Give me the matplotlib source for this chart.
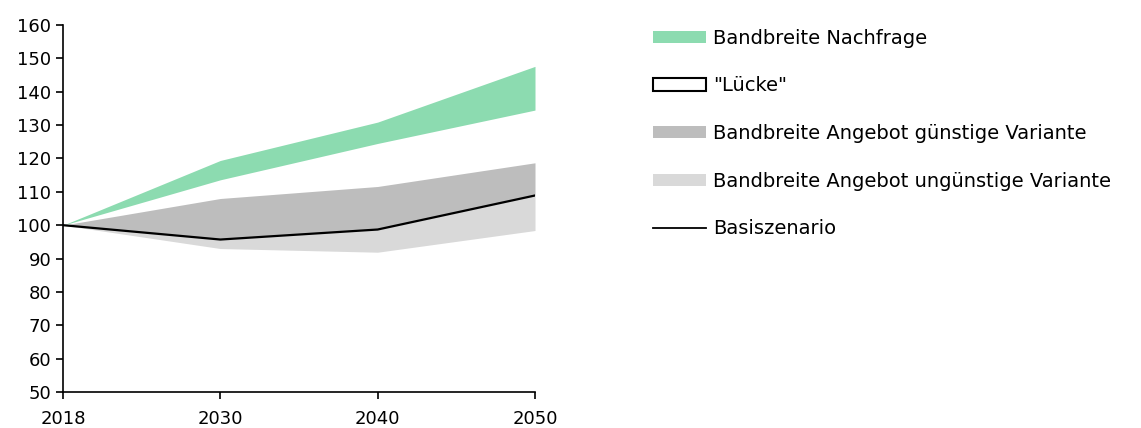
import matplotlib.pyplot as plt
from matplotlib.patches import Patch
from matplotlib.lines import Line2D

# data
years = ["2018", "2030", "2040", "2050"]
nachfrage_low = [100, 113.6, 124.5, 134.5]
nachfrage_high = [100, 119.4, 130.9, 147.6]
angebot_guenstig = [100, 108.0, 111.6, 118.7]
basis = [100, 95.7, 98.7, 108.9]
angebot_unguenstig = [100, 93.0, 91.9, 98.4]

green = "#8cdbb0"
dark = "#bdbdbd"
light = "#d9d9d9"

plt.rcParams["font.family"] = ["DejaVu Sans"]

fig = plt.figure(figsize=(11.41, 4.28), dpi=100)
ax = fig.add_axes([63 / 1141, 1 - 392 / 428, (535 - 63) / 1141, (392 - 25) / 428])

x = list(range(len(years)))
ax.fill_between(x, nachfrage_low, nachfrage_high, color=green, lw=0)
ax.fill_between(x, basis, angebot_guenstig, color=dark, lw=0)
ax.fill_between(x, angebot_unguenstig, basis, color=light, lw=0)
ax.plot(x, basis, color="black", lw=1.6)

ax.set_xlim(0, 3)
ax.set_ylim(50, 160)
ax.set_xticks(x)
ax.set_xticklabels(years)
ax.set_yticks(range(50, 161, 10))
ax.tick_params(labelsize=13, length=5, width=1.2, colors="black")
ax.tick_params(axis="x", pad=8)
ax.spines["top"].set_visible(False)
ax.spines["right"].set_visible(False)
ax.spines["left"].set_linewidth(1.2)
ax.spines["bottom"].set_linewidth(1.2)

handles = [
    Patch(facecolor=green, edgecolor="none"),
    Patch(facecolor="white", edgecolor="black", linewidth=1.5),
    Patch(facecolor=dark, edgecolor="none"),
    Patch(facecolor=light, edgecolor="none"),
    Line2D([0], [0], color="black", lw=1.3),
]
labels = [
    "Bandbreite Nachfrage",
    '"Lücke"',
    "Bandbreite Angebot günstige Variante",
    "Bandbreite Angebot ungünstige Variante",
    "Basiszenario",
]
fig.legend(handles, labels, loc="upper left", bbox_to_anchor=(645 / 1141, 1 - 21 / 428),
           frameon=False, fontsize=14, handlelength=2.75, handleheight=0.6,
           handletextpad=0.35, labelspacing=1.47, borderaxespad=0)

fig.savefig("out.png", dpi=100)
